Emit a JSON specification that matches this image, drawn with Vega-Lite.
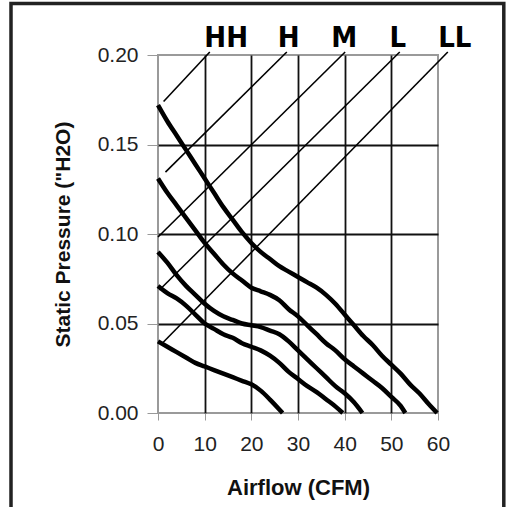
{
  "$schema": "https://vega.github.io/schema/vega-lite/v6.json",
  "width": 280,
  "height": 358,
  "autosize": {"type": "none"},
  "padding": {"left": 158, "top": 55, "right": 73, "bottom": 94},
  "background": "white",
  "config": {
    "view": {"stroke": "#9a9a9a", "strokeWidth": 2},
    "font": "Liberation Sans"
  },
  "datasets": {
    "curves": [
      {"fan": "HH", "cfm": 0, "sp": 0.172}, {"fan": "HH", "cfm": 2, "sp": 0.163}, {"fan": "HH", "cfm": 4, "sp": 0.155}, {"fan": "HH", "cfm": 6, "sp": 0.147}, {"fan": "HH", "cfm": 8, "sp": 0.139}, {"fan": "HH", "cfm": 10, "sp": 0.131}, {"fan": "HH", "cfm": 12, "sp": 0.123}, {"fan": "HH", "cfm": 14, "sp": 0.115}, {"fan": "HH", "cfm": 16, "sp": 0.108}, {"fan": "HH", "cfm": 18, "sp": 0.101}, {"fan": "HH", "cfm": 20, "sp": 0.095}, {"fan": "HH", "cfm": 22, "sp": 0.09}, {"fan": "HH", "cfm": 24, "sp": 0.086}, {"fan": "HH", "cfm": 26, "sp": 0.082}, {"fan": "HH", "cfm": 28, "sp": 0.079}, {"fan": "HH", "cfm": 30, "sp": 0.076}, {"fan": "HH", "cfm": 32, "sp": 0.073}, {"fan": "HH", "cfm": 34, "sp": 0.07}, {"fan": "HH", "cfm": 36, "sp": 0.066}, {"fan": "HH", "cfm": 38, "sp": 0.061}, {"fan": "HH", "cfm": 40, "sp": 0.055}, {"fan": "HH", "cfm": 42, "sp": 0.049}, {"fan": "HH", "cfm": 44, "sp": 0.043}, {"fan": "HH", "cfm": 46, "sp": 0.038}, {"fan": "HH", "cfm": 48, "sp": 0.032}, {"fan": "HH", "cfm": 50, "sp": 0.027}, {"fan": "HH", "cfm": 52, "sp": 0.022}, {"fan": "HH", "cfm": 54, "sp": 0.016}, {"fan": "HH", "cfm": 56, "sp": 0.011}, {"fan": "HH", "cfm": 58, "sp": 0.005}, {"fan": "HH", "cfm": 59.8, "sp": 0.0},
      {"fan": "H", "cfm": 0, "sp": 0.131}, {"fan": "H", "cfm": 2, "sp": 0.123}, {"fan": "H", "cfm": 4, "sp": 0.116}, {"fan": "H", "cfm": 6, "sp": 0.109}, {"fan": "H", "cfm": 8, "sp": 0.102}, {"fan": "H", "cfm": 10, "sp": 0.095}, {"fan": "H", "cfm": 12, "sp": 0.089}, {"fan": "H", "cfm": 14, "sp": 0.083}, {"fan": "H", "cfm": 16, "sp": 0.078}, {"fan": "H", "cfm": 18, "sp": 0.074}, {"fan": "H", "cfm": 20, "sp": 0.07}, {"fan": "H", "cfm": 22, "sp": 0.068}, {"fan": "H", "cfm": 24, "sp": 0.066}, {"fan": "H", "cfm": 26, "sp": 0.063}, {"fan": "H", "cfm": 28, "sp": 0.058}, {"fan": "H", "cfm": 30, "sp": 0.054}, {"fan": "H", "cfm": 32, "sp": 0.049}, {"fan": "H", "cfm": 34, "sp": 0.044}, {"fan": "H", "cfm": 36, "sp": 0.039}, {"fan": "H", "cfm": 38, "sp": 0.035}, {"fan": "H", "cfm": 40, "sp": 0.03}, {"fan": "H", "cfm": 42, "sp": 0.026}, {"fan": "H", "cfm": 44, "sp": 0.022}, {"fan": "H", "cfm": 46, "sp": 0.018}, {"fan": "H", "cfm": 48, "sp": 0.014}, {"fan": "H", "cfm": 50, "sp": 0.009}, {"fan": "H", "cfm": 52, "sp": 0.004}, {"fan": "H", "cfm": 53, "sp": 0.0},
      {"fan": "M", "cfm": 0, "sp": 0.09}, {"fan": "M", "cfm": 2, "sp": 0.084}, {"fan": "M", "cfm": 4, "sp": 0.077}, {"fan": "M", "cfm": 6, "sp": 0.071}, {"fan": "M", "cfm": 8, "sp": 0.066}, {"fan": "M", "cfm": 10, "sp": 0.061}, {"fan": "M", "cfm": 12, "sp": 0.057}, {"fan": "M", "cfm": 14, "sp": 0.054}, {"fan": "M", "cfm": 16, "sp": 0.052}, {"fan": "M", "cfm": 18, "sp": 0.05}, {"fan": "M", "cfm": 20, "sp": 0.049}, {"fan": "M", "cfm": 22, "sp": 0.048}, {"fan": "M", "cfm": 24, "sp": 0.046}, {"fan": "M", "cfm": 26, "sp": 0.044}, {"fan": "M", "cfm": 28, "sp": 0.04}, {"fan": "M", "cfm": 30, "sp": 0.035}, {"fan": "M", "cfm": 32, "sp": 0.03}, {"fan": "M", "cfm": 34, "sp": 0.025}, {"fan": "M", "cfm": 36, "sp": 0.02}, {"fan": "M", "cfm": 38, "sp": 0.015}, {"fan": "M", "cfm": 40, "sp": 0.011}, {"fan": "M", "cfm": 42, "sp": 0.006}, {"fan": "M", "cfm": 43.8, "sp": 0.0},
      {"fan": "L", "cfm": 0, "sp": 0.071}, {"fan": "L", "cfm": 2, "sp": 0.067}, {"fan": "L", "cfm": 4, "sp": 0.064}, {"fan": "L", "cfm": 6, "sp": 0.06}, {"fan": "L", "cfm": 8, "sp": 0.055}, {"fan": "L", "cfm": 10, "sp": 0.05}, {"fan": "L", "cfm": 12, "sp": 0.047}, {"fan": "L", "cfm": 14, "sp": 0.044}, {"fan": "L", "cfm": 16, "sp": 0.042}, {"fan": "L", "cfm": 18, "sp": 0.039}, {"fan": "L", "cfm": 20, "sp": 0.037}, {"fan": "L", "cfm": 22, "sp": 0.035}, {"fan": "L", "cfm": 24, "sp": 0.032}, {"fan": "L", "cfm": 26, "sp": 0.028}, {"fan": "L", "cfm": 28, "sp": 0.023}, {"fan": "L", "cfm": 30, "sp": 0.019}, {"fan": "L", "cfm": 32, "sp": 0.015}, {"fan": "L", "cfm": 34, "sp": 0.0117}, {"fan": "L", "cfm": 36, "sp": 0.0077}, {"fan": "L", "cfm": 38, "sp": 0.0037}, {"fan": "L", "cfm": 39.6, "sp": 0.0},
      {"fan": "LL", "cfm": 0, "sp": 0.04}, {"fan": "LL", "cfm": 2, "sp": 0.037}, {"fan": "LL", "cfm": 4, "sp": 0.034}, {"fan": "LL", "cfm": 6, "sp": 0.031}, {"fan": "LL", "cfm": 8, "sp": 0.028}, {"fan": "LL", "cfm": 10, "sp": 0.026}, {"fan": "LL", "cfm": 12, "sp": 0.024}, {"fan": "LL", "cfm": 14, "sp": 0.022}, {"fan": "LL", "cfm": 16, "sp": 0.02}, {"fan": "LL", "cfm": 18, "sp": 0.018}, {"fan": "LL", "cfm": 20, "sp": 0.016}, {"fan": "LL", "cfm": 22, "sp": 0.0125}, {"fan": "LL", "cfm": 24, "sp": 0.0075}, {"fan": "LL", "cfm": 26, "sp": 0.002}, {"fan": "LL", "cfm": 26.7, "sp": 0.0}
    ],
    "system": [
      {"mode": "HH", "cfm": 1.2, "sp": 0.174}, {"mode": "HH", "cfm": 11.1, "sp": 0.2017},
      {"mode": "H", "cfm": 1.6, "sp": 0.1346}, {"mode": "H", "cfm": 27.6, "sp": 0.2017},
      {"mode": "M", "cfm": 0, "sp": 0.0983}, {"mode": "M", "cfm": 40.1, "sp": 0.2017},
      {"mode": "L", "cfm": 0.3, "sp": 0.0687}, {"mode": "L", "cfm": 51.8, "sp": 0.2017},
      {"mode": "LL", "cfm": 0.97, "sp": 0.0391}, {"mode": "LL", "cfm": 62.1, "sp": 0.2017}
    ],
    "labels": [
      {"mode": "HH", "cfm": 14.6, "sp": 0.2047},
      {"mode": "H", "cfm": 28.0, "sp": 0.2047},
      {"mode": "M", "cfm": 39.9, "sp": 0.2047},
      {"mode": "L", "cfm": 51.4, "sp": 0.2047},
      {"mode": "LL", "cfm": 63.6, "sp": 0.2047}
    ]
  },
  "layer": [
    {
      "data": {"name": "curves"},
      "mark": {"type": "line", "color": "black", "strokeWidth": 4.5, "interpolate": "monotone"},
      "encoding": {
        "x": {
          "field": "cfm", "type": "quantitative",
          "scale": {"domain": [0, 60], "nice": false},
          "axis": {
            "values": [0, 10, 20, 30, 40, 50, 60],
            "title": "Airflow (CFM)",
            "grid": true,
            "gridColor": {"condition": {"test": "datum.value == 0 || datum.value == 60", "value": "transparent"}, "value": "#111"},
            "gridWidth": 1.8,
            "domain": false,
            "labelFlush": false,
            "labelOverlap": false,
            "ticks": true, "tickColor": "#999", "tickSize": 7, "tickWidth": 1,
            "labelFontSize": 21, "labelColor": "#222", "labelPadding": 13, "labelFont": "Liberation Sans",
            "titleFontSize": 22, "titleFontWeight": "bold", "titleColor": "#111", "titlePadding": 23, "titleFont": "Liberation Sans"
          }
        },
        "y": {
          "field": "sp", "type": "quantitative",
          "scale": {"domain": [0, 0.2], "nice": false},
          "axis": {
            "values": [0, 0.05, 0.1, 0.15, 0.2],
            "format": ".2f",
            "title": "Static Pressure (\"H2O)",
            "grid": true,
            "gridColor": {"condition": {"test": "datum.value == 0 || datum.value == 0.2", "value": "transparent"}, "value": "#111"},
            "gridWidth": 1.8,
            "domain": false,
            "labelFlush": false,
            "labelOverlap": false,
            "ticks": true, "tickColor": "#999", "tickSize": 11, "tickWidth": 1,
            "labelFontSize": 21, "labelColor": "#222", "labelPadding": 9, "labelFont": "Liberation Sans",
            "titleFontSize": 21, "titleFontWeight": "bold", "titleColor": "#111", "titlePadding": 24, "titleFont": "Liberation Sans"
          }
        },
        "detail": {"field": "fan", "type": "nominal"}
      }
    },
    {
      "data": {"name": "system"},
      "mark": {"type": "line", "color": "black", "strokeWidth": 1.6},
      "encoding": {
        "x": {"field": "cfm", "type": "quantitative", "scale": {"domain": [0, 60], "nice": false}},
        "y": {"field": "sp", "type": "quantitative", "scale": {"domain": [0, 0.2], "nice": false}},
        "detail": {"field": "mode", "type": "nominal"}
      }
    },
    {
      "data": {"name": "labels"},
      "mark": {"type": "text", "font": "Liberation Sans Narrow, Arial Narrow, DejaVu Sans Condensed", "fontWeight": "bold", "fontSize": 29, "align": "center", "baseline": "alphabetic", "color": "black"},
      "encoding": {
        "x": {"field": "cfm", "type": "quantitative", "scale": {"domain": [0, 60], "nice": false}},
        "y": {"field": "sp", "type": "quantitative", "scale": {"domain": [0, 0.2], "nice": false}},
        "text": {"field": "mode", "type": "nominal"}
      }
    },
    {
      "data": {"values": [{}]},
      "mark": {"type": "rect", "filled": false, "color": "#222", "strokeWidth": 3.5},
      "encoding": {
        "x": {"datum": -31.5, "type": "quantitative", "scale": {"domain": [0, 60], "nice": false}},
        "x2": {"datum": 74.1},
        "y": {"datum": 0.2288, "type": "quantitative", "scale": {"domain": [0, 0.2], "nice": false}},
        "y2": {"datum": -0.08}
      }
    }
  ]
}
